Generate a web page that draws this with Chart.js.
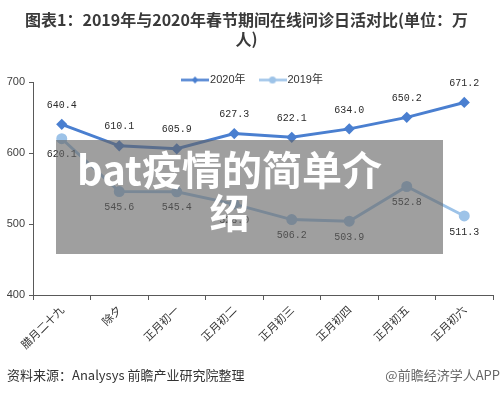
<!DOCTYPE html>
<html lang="zh">
<head>
<meta charset="UTF-8">
<title>在线问诊日活对比</title>
<script src="https://cdn.jsdelivr.net/npm/chart.js"></script>
<style>
  body { margin: 0; background: #fff; }
  #wrap { position: relative; width: 500px; height: 395px; overflow: hidden; background: #fff; }
  #chart { position: absolute; left: 0; top: 0; }
  #banner {
    position: absolute; left: 56px; top: 140px; width: 387px; height: 114px;
    box-sizing: border-box; padding: 7px 50px 0 10px;
    background: rgba(100, 100, 100, 0.62);
    color: #fff; font: bold 40px/43px "Noto Sans CJK SC", sans-serif; text-align: center;
  }
  #source { position: absolute; left: 7px; top: 365px; font: 13px "Noto Sans CJK SC", sans-serif; color: #333; }
  #mark { position: absolute; right: 0; top: 365px; font: 13px "Noto Sans CJK SC", sans-serif; color: #666; }
</style>
</head>
<body>
<div id="wrap">
  <canvas id="chart" width="500" height="395"></canvas>
  <div id="banner">bat疫情的简单介绍</div>
  <div id="source">资料来源：Analysys 前瞻产业研究院整理</div>
  <div id="mark">@前瞻经济学人APP</div>
</div>
<script>
  // data
  const categories = ['腊月二十九', '除夕', '正月初一', '正月初二', '正月初三', '正月初四', '正月初五', '正月初六'];
  const values2020 = [640.4, 610.1, 605.9, 627.3, 622.1, 634.0, 650.2, 671.2];
  const values2019 = [620.1, 545.6, 545.4, 528.0, 506.2, 503.9, 552.8, 511.3];
  const yTicks = [400, 500, 600, 700];
  const titleLines = ['图表1：2019年与2020年春节期间在线问诊日活对比(单位：万', '人)'];

  const blue2020 = '#4a7fd0';
  const blue2019 = '#9dc3e8';

  // small line + marker used in the legend
  function legendIcon(color, style) {
    const c = document.createElement('canvas');
    c.width = 28; c.height = 9;
    const g = c.getContext('2d');
    g.strokeStyle = color; g.lineWidth = 2.5;
    g.beginPath(); g.moveTo(0, 4.5); g.lineTo(28, 4.5); g.stroke();
    g.fillStyle = color;
    g.beginPath();
    if (style === 'rectRot') {
      g.moveTo(14, 1); g.lineTo(17.5, 4.5); g.lineTo(14, 8); g.lineTo(10.5, 4.5);
    } else {
      g.arc(14, 4.5, 3.5, 0, Math.PI * 2);
    }
    g.fill();
    return c;
  }

  // value labels above / below each point
  const valueLabels = {
    id: 'valueLabels',
    afterDatasetsDraw(chart) {
      const ctx = chart.ctx;
      ctx.save();
      ctx.font = '10px "Liberation Mono", monospace';
      ctx.fillStyle = '#2b2b2b';
      ctx.textAlign = 'center';
      ctx.textBaseline = 'middle';
      chart.data.datasets.forEach((ds, i) => {
        chart.getDatasetMeta(i).data.forEach((pt, j) => {
          ctx.fillText(ds.data[j].toFixed(1), pt.x, pt.y + ds.labelOffset);
        });
      });
      ctx.restore();
    }
  };

  // legend drawn just above the plot area
  const lineLegend = {
    id: 'lineLegend',
    afterDraw(chart) {
      const ctx = chart.ctx;
      ctx.save();
      ctx.font = '11px "Liberation Sans", "Noto Sans CJK SC", sans-serif';
      ctx.fillStyle = '#333';
      ctx.textBaseline = 'middle';
      const iconW = 28, space = 13;
      const items = chart.data.datasets.map(ds => ({ ds, w: iconW + 1 + ctx.measureText(ds.label).width }));
      const total = items.reduce((s, it) => s + it.w, 0) + space * (items.length - 1);
      let x = chart.width / 2 - total / 2 + 2;
      const y = chart.chartArea.top - 2;
      items.forEach(it => {
        ctx.drawImage(it.ds.legendIcon, x, y - 4.5);
        ctx.fillText(it.ds.label, x + iconW + 1, y);
        x += it.w + space;
      });
      ctx.restore();
    }
  };

  new Chart(document.getElementById('chart'), {
    type: 'line',
    data: {
      labels: categories,
      datasets: [
        {
          label: '2020年', data: values2020, labelOffset: -19,
          borderColor: blue2020, backgroundColor: blue2020, borderWidth: 3,
          pointStyle: 'rectRot', pointRadius: 3.5, tension: 0,
          legendIcon: legendIcon(blue2020, 'rectRot')
        },
        {
          label: '2019年', data: values2019, labelOffset: 16,
          borderColor: blue2019, backgroundColor: blue2019, borderWidth: 3,
          pointStyle: 'circle', pointRadius: 4, tension: 0,
          legendIcon: legendIcon(blue2019, 'circle')
        }
      ]
    },
    options: {
      responsive: false,
      animation: false,
      layout: { padding: { left: 0, right: 7, top: 0, bottom: 0 } },
      plugins: {
        tooltip: { enabled: false },
        legend: { display: false },
        title: {
          display: true,
          text: titleLines,
          color: '#3a3a3a',
          font: { family: '"Noto Sans CJK SC", sans-serif', size: 16, weight: 'bold', lineHeight: 1.2 },
          padding: { top: 10, bottom: 33.6 }
        }
      },
      scales: {
        x: {
          offset: true,
          grid: { offset: true, drawOnChartArea: false, tickLength: 5, color: '#595959' },
          border: { color: '#595959', width: 1 },
          ticks: {
            autoSkip: false, minRotation: 45, maxRotation: 45, padding: 3,
            color: '#333',
            font: { family: '"Noto Sans CJK SC", sans-serif', size: 11 }
          },
          afterFit(scale) { scale.height = 100; }
        },
        y: {
          min: yTicks[0],
          max: yTicks[yTicks.length - 1],
          afterBuildTicks(scale) { scale.ticks = yTicks.map(v => ({ value: v })); },
          grid: { drawOnChartArea: false, tickLength: 4, color: '#595959' },
          border: { color: '#595959', width: 1 },
          ticks: {
            padding: 4, color: '#404040',
            font: { family: '"Liberation Sans", sans-serif', size: 11 }
          },
          afterFit(scale) { scale.width = 33; }
        }
      }
    },
    plugins: [valueLabels, lineLegend]
  });
</script>
</body>
</html>
